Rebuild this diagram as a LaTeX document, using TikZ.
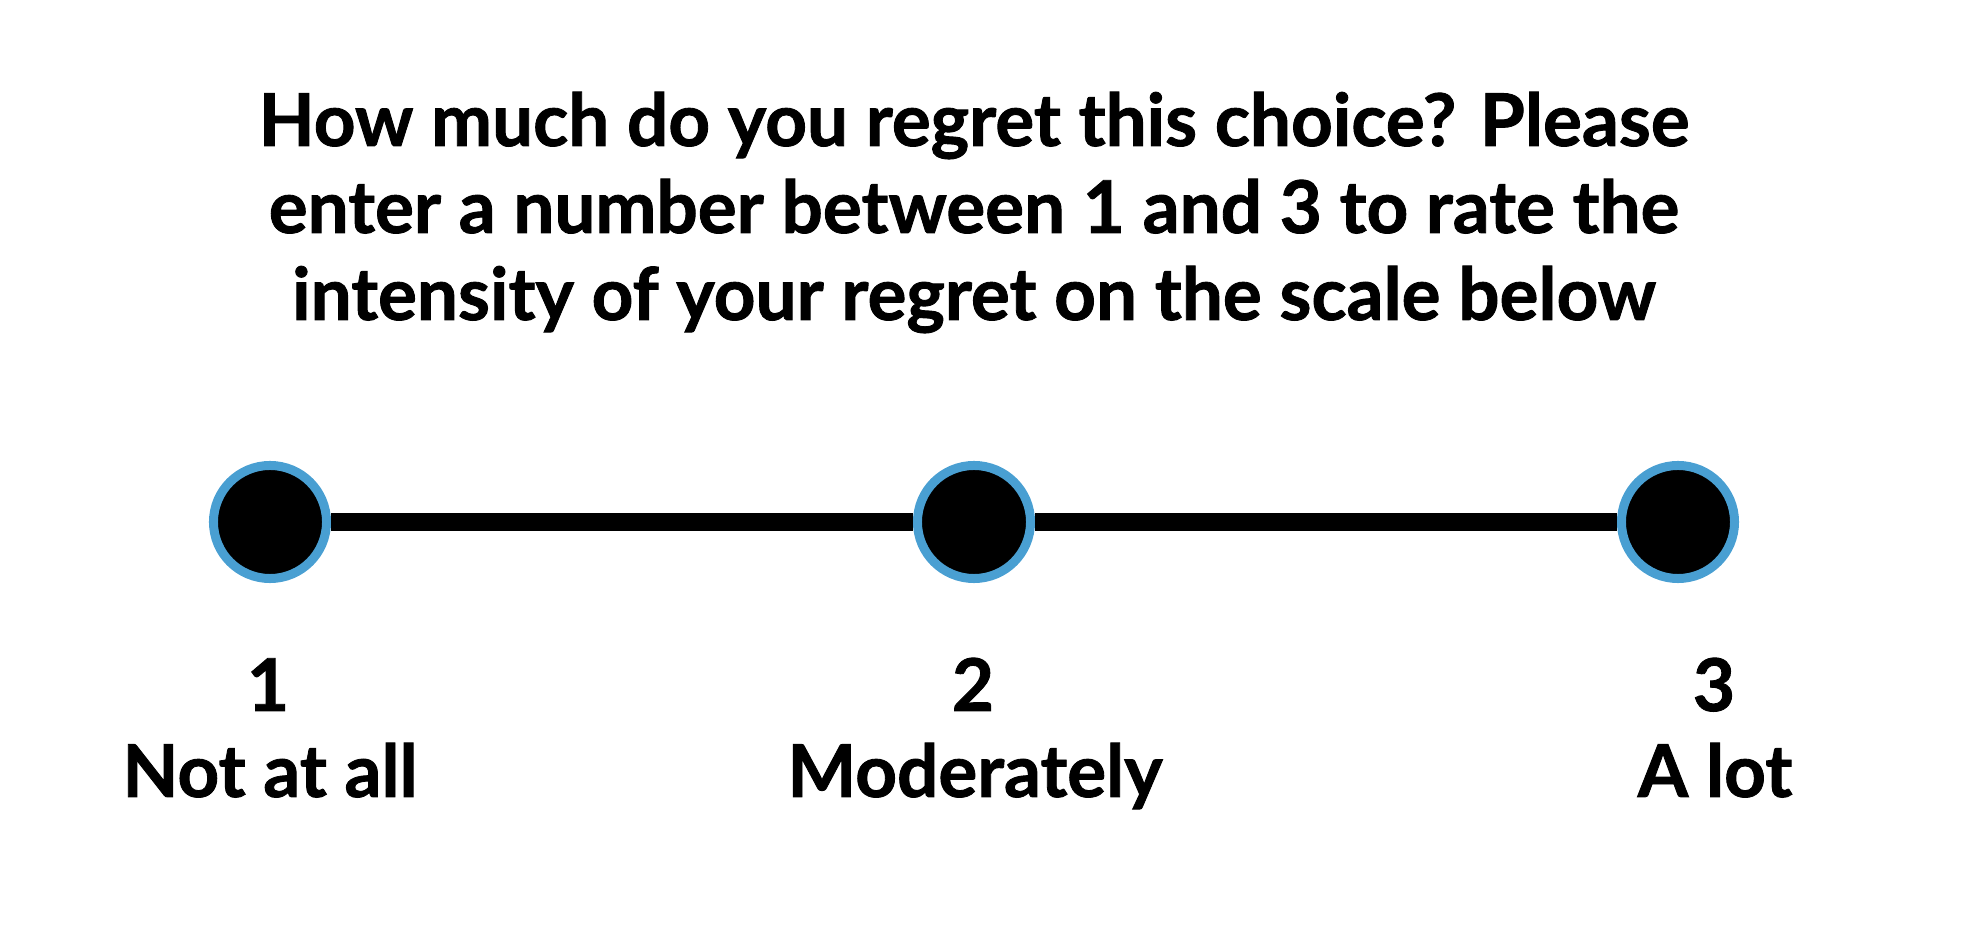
\documentclass[tikz,border=0pt]{standalone}
\usepackage{fontspec}
\setmainfont{Lato}[BoldFeatures={FakeBold=1.2}]
\definecolor{ringblue}{RGB}{73,159,210}
\begin{document}
\begin{tikzpicture}[x=0.01cm,y=-0.01cm,
  dot/.style={circle,draw=ringblue,line width=0.09cm,fill=black,minimum size=1.13cm,inner sep=0pt},
  lbl/.style={anchor=base,font=\fontsize{20.7}{24.7}\selectfont\bfseries,inner sep=0pt},
  bar/.style={line width=0.18cm,black}]
\useasboundingbox (0,0) rectangle (1962,940);
\node[lbl] (t1) at (974,146) {How much do you regret this choice? Please};
\node[lbl] (t2) at (974,233) {enter a number between 1 and 3 to rate the};
\node[lbl] (t3) at (974,320) {intensity of your regret on the scale below};
\node[dot] (c1) at (270,522) {};
\node[dot] (c2) at (974,522) {};
\node[dot] (c3) at (1678,522) {};
\draw[bar] (c1) -- (c2);
\draw[bar] (c2) -- (c3);
\node[lbl] (n1) at (268,711) {1};
\node[lbl] (n2) at (973,711) {2};
\node[lbl] (n3) at (1714,711) {3};
\node[lbl] (l1) at (270,797) {Not at all};
\node[lbl] (l2) at (975,797) {Moderately};
\node[lbl] (l3) at (1715,797) {A lot};
\end{tikzpicture}
\end{document}
